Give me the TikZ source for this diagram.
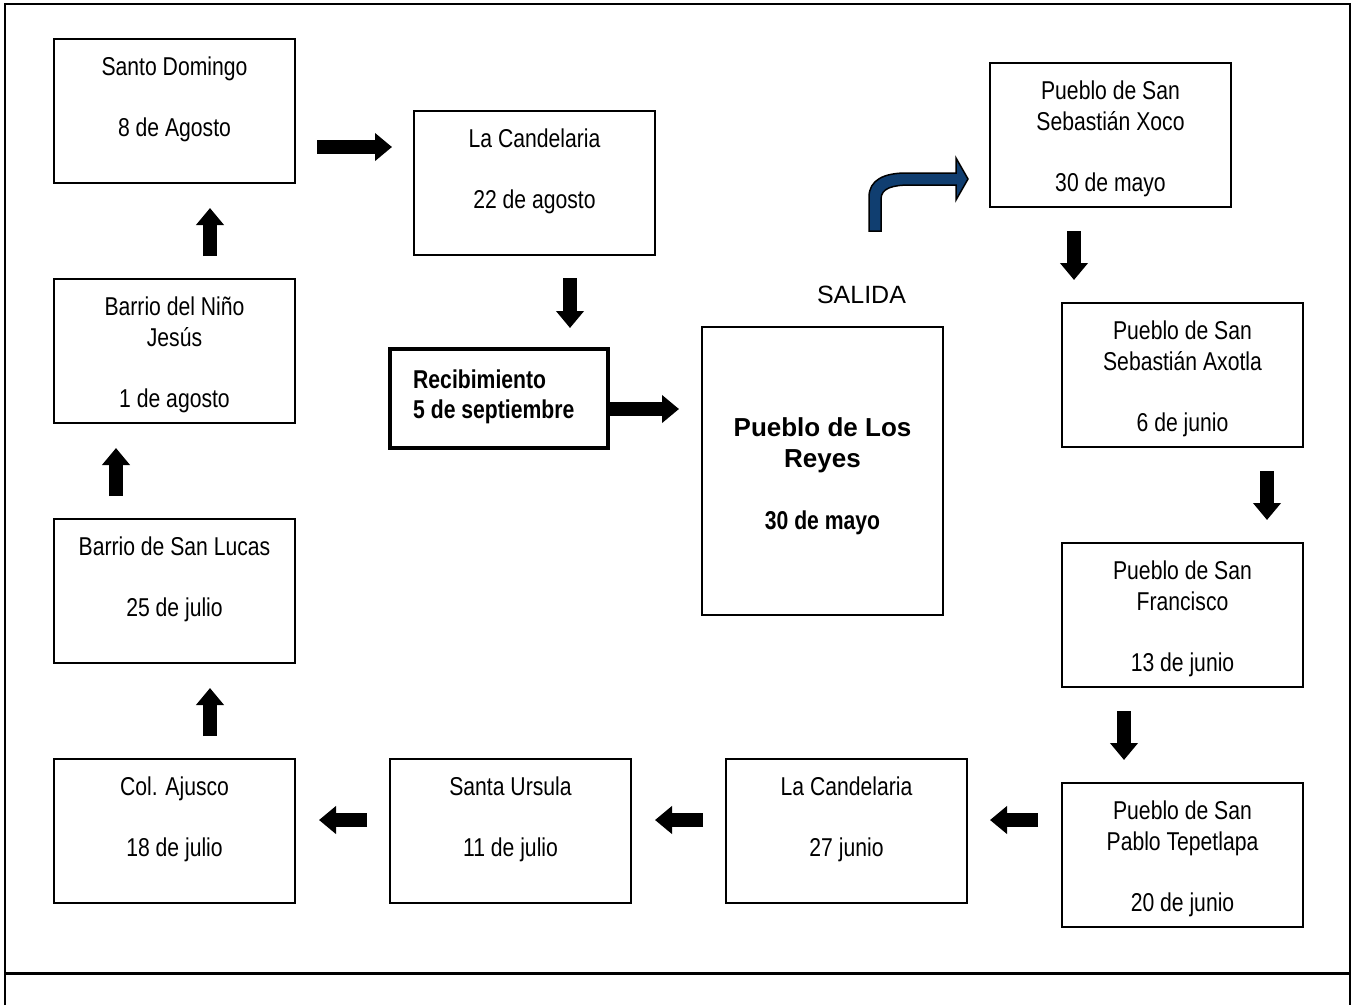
\documentclass[tikz,border=0pt]{standalone}
\usepackage{fontspec}
\setmainfont{Liberation Sans}
\newfontfamily\angosta[FakeStretch=0.82]{Liberation Sans}
\usetikzlibrary{arrows.meta}
\usetikzlibrary{positioning}
\definecolor{azul}{RGB}{16,62,112}

\begin{document}
\begin{tikzpicture}[x=1pt,y=-1pt,
caja/.style={draw,line width=1.5pt,minimum width=241pt,minimum height=144pt,inner sep=0pt,outer sep=0pt},
texto/.style={font=\angosta\fontsize{25.8}{30.5}\selectfont,align=center,inner sep=0pt},
flecha/.style={line width=14pt,-{Triangle[width=27pt,length=17pt]}}]

\useasboundingbox (0,0) rectangle (1356,1005);

\draw[line width=1.5pt] (5,1005) -- (5,4) -- (1350,4) -- (1350,1005);
\draw[line width=3pt] (5,973) -- (1350,973);

\node[caja] (sd) at (174.5,111) {};
\node[caja] (lc1) at (534.5,183) {};
\node[caja] (nj) at (174.5,351) {};
\node[caja] (sl) at (174.5,591) {};
\node[caja] (aj) at (174.5,831) {};
\node[caja] (su) at (510.5,831) {};
\node[caja] (lc2) at (846.5,831) {};
\node[caja] (sp) at (1182.5,855) {};
\node[caja] (sf) at (1182.5,615) {};
\node[caja] (sa) at (1182.5,375) {};
\node[caja] (sx) at (1110.5,135) {};
\node[caja,minimum height=288pt] (ry) at (822.5,471) {};
\node[caja,line width=4pt,minimum width=218pt,minimum height=99pt] (rb) at (499,398.5) {};

\node[texto,below=18pt of sd.north] (sd-t) {Santo Domingo\\[30.5pt]8 de Agosto};
\node[texto,below=18pt of lc1.north] (lc1-t) {La Candelaria\\[30.5pt]22 de agosto};
\node[texto,below=18pt of nj.north] (nj-t) {Barrio del Niño\\Jesús\\[30.5pt]1 de agosto};
\node[texto,below=18pt of sl.north] (sl-t) {Barrio de San Lucas\\[30.5pt]25 de julio};
\node[texto,below=18pt of aj.north] (aj-t) {Col. Ajusco\\[30.5pt]18 de julio};
\node[texto,below=18pt of su.north] (su-t) {Santa Ursula\\[30.5pt]11 de julio};
\node[texto,below=18pt of lc2.north] (lc2-t) {La Candelaria\\[30.5pt]27 junio};
\node[texto,below=18pt of sp.north] (sp-t) {Pueblo de San\\Pablo Tepetlapa\\[30.5pt]20 de junio};
\node[texto,below=18pt of sf.north] (sf-t) {Pueblo de San\\Francisco\\[30.5pt]13 de junio};
\node[texto,below=18pt of sa.north] (sa-t) {Pueblo de San\\Sebastián Axotla\\[30.5pt]6 de junio};
\node[texto,below=18pt of sx.north] (sx-t) {Pueblo de San\\Sebastián Xoco\\[30.5pt]30 de mayo};
\node[texto,font=\fontsize{26}{31}\selectfont\bfseries,below=90pt of ry.north] (ry-t)
  {Pueblo de Los\\Reyes\\[31pt]{\angosta\fontsize{25.8}{31}\selectfont 30 de mayo}};
\node[texto,font=\angosta\fontsize{25.8}{30}\selectfont\bfseries,align=left,below right=21pt and 23pt of rb.north west] (rb-t)
  {Recibimiento\\5 de septiembre};
\node[font=\fontsize{25}{30}\selectfont,inner sep=0pt,anchor=base] (salida) at ([xshift=39pt,yshift=24pt]ry.north) {SALIDA};

\draw[flecha,shorten <=22pt,shorten >=22pt] ([yshift=-36pt]sd.east) -- ([yshift=36pt]lc1.west);
\draw[flecha,shorten <=23pt,shorten >=21pt] ([xshift=35.5pt]lc1.south) -- ([xshift=71pt]rb.north);
\draw[flecha,shorten <=0pt,shorten >=23pt] ([yshift=-10.5pt]rb.east) -- ([yshift=62pt]ry.west);
\draw[flecha,shorten <=24pt,shorten >=23pt] ([xshift=-36.5pt]sx.south) -- ([xshift=-108.5pt]sa.north);
\draw[flecha,shorten <=24pt,shorten >=23pt] ([xshift=84.5pt]sa.south) -- ([xshift=84.5pt]sf.north);
\draw[flecha,shorten <=24pt,shorten >=23pt] ([xshift=-58.5pt]sf.south) -- ([xshift=-58.5pt]sp.north);
\draw[flecha,shorten <=24pt,shorten >=23pt] ([yshift=35pt]sp.west) -- ([yshift=11pt]lc2.east);
\draw[flecha,shorten <=23pt,shorten >=24pt] ([yshift=11pt]lc2.west) -- ([yshift=11pt]su.east);
\draw[flecha,shorten <=23pt,shorten >=24pt] ([yshift=11pt]su.west) -- ([yshift=11pt]aj.east);
\draw[flecha,shorten <=23pt,shorten >=25pt] ([xshift=35.5pt]aj.north) -- ([xshift=35.5pt]sl.south);
\draw[flecha,shorten <=23pt,shorten >=25pt] ([xshift=-58.5pt]sl.north) -- ([xshift=-58.5pt]nj.south);
\draw[flecha,shorten <=23pt,shorten >=25pt] ([xshift=35.5pt]nj.north) -- ([xshift=35.5pt]sd.south);

\filldraw[fill=azul,draw=black,line width=1.5pt] (869,231) -- (869,197)
  .. controls (869,180) and (884,173) .. (906,173) -- (956,173) -- (956,158) -- (968,179)
  -- (956,200) -- (956,185) -- (910,185) .. controls (893,185) and (881,188) .. (881,199)
  -- (881,231) -- cycle;
\end{tikzpicture}
\end{document}
